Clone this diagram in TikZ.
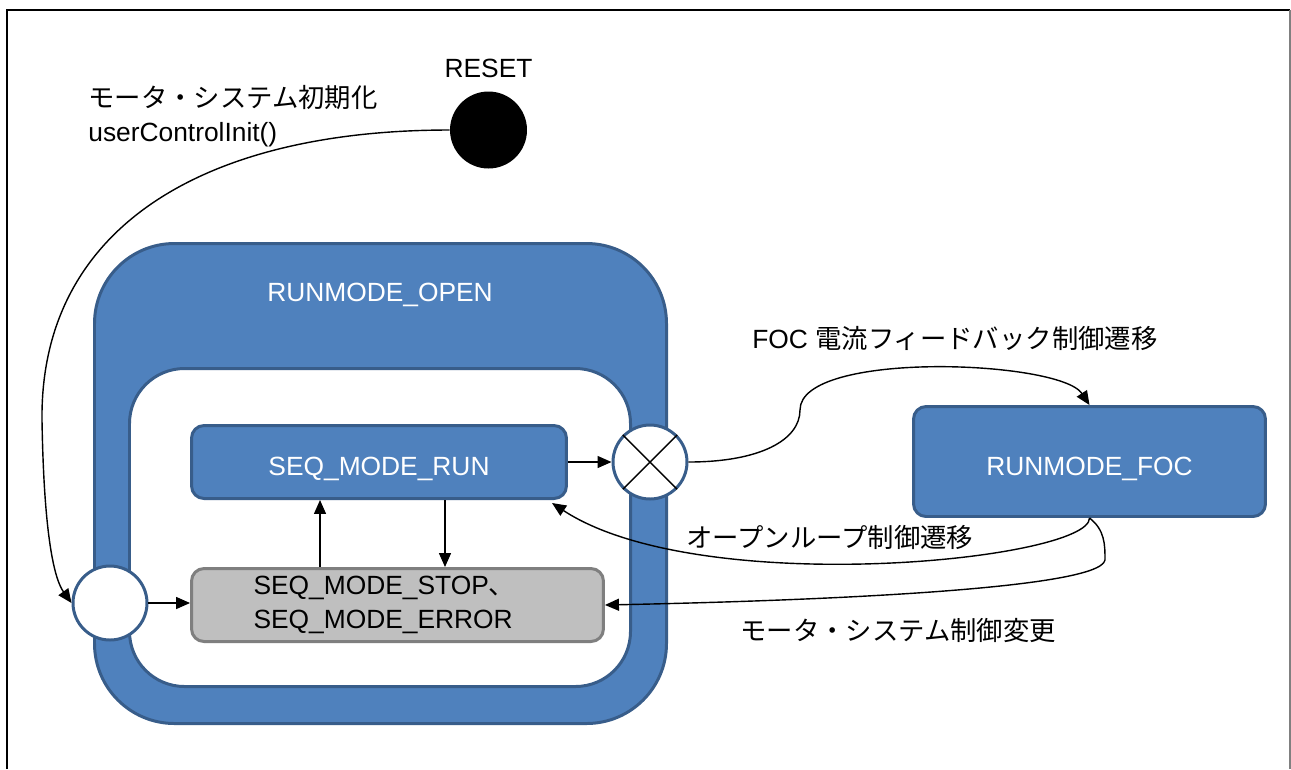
\documentclass[tikz,border=0pt]{standalone}
\usepackage{fontspec}
\setmainfont{Liberation Sans}
\newfontfamily\jp{Noto Sans CJK JP}
\usetikzlibrary{arrows.meta}
\definecolor{modeblue}{HTML}{4F81BD}
\definecolor{modeedge}{HTML}{385D8A}
\definecolor{stopgray}{HTML}{BFBFBF}
\definecolor{stopedge}{HTML}{7F7F7F}
\tikzset{
    modebox/.style={draw=modeedge, line width=1.7pt, fill=modeblue, rounded corners=0.25cm, text=white, text height=0.6cm, text depth=0.06cm},
    stopbox/.style={draw=stopedge, line width=1.7pt, fill=stopgray, rounded corners=0.25cm, align=left, text width=5.76cm, inner xsep=1.24cm},
    pseudo/.style={circle, draw=modeedge, line width=1.7pt, fill=white, minimum size=1.48cm, inner sep=0pt},
    arr/.style={-{Triangle[length=0.28cm,width=0.24cm]}, line width=0.8pt},
    lbl/.style={anchor=west, inner sep=0pt}
}
\begin{document}
\begin{tikzpicture}[x=0.02cm, y=-0.02cm, font=\fontsize{15}{19}\selectfont]
                            \useasboundingbox (0, 0) rectangle (1291, 769);
                            \draw[line width=1.2pt] (7, 769) -- (7, 10) -- (1290, 10);
                            \draw[gray, line width=0.6pt] (1290, 10) -- (1290, 769);
                            \node[circle, fill=black, minimum size=1.54cm, inner sep=0pt] (reset) at (488.5, 130) {};
                            \node (resetlbl) at (488.5, 68) {RESET};
                            \node[lbl, align=left] (initlbl) at (88, 116) {{\jp モータ・システム初期化}\\userControlInit()};
                            \filldraw[draw=modeedge, fill=modeblue, line width=1.7pt, rounded corners=1.6cm] (94.5, 243.5) rectangle (666.5, 723.5);
                            \filldraw[draw=modeedge, fill=white, line width=1.7pt, rounded corners=1.1cm] (129.5, 368.5) rectangle (630.5, 686.5);
                            \node[text=white] (openlbl) at (380, 295) {RUNMODE\_OPEN};
                            \node[modebox, minimum width=7.5cm, minimum height=1.46cm] (run) at (379, 462) {SEQ\_MODE\_RUN};
                            \node[stopbox, minimum width=8.24cm, minimum height=1.46cm] (stop) at (397.5, 605) {SEQ\_MODE\_STOP{\jp 、}\\SEQ\_MODE\_ERROR};
                            \node[pseudo] (entry) at (110, 603) {};
                            \node[pseudo] (exit) at (650, 462) {};
                            \draw[line width=0.8pt] (exit.45) -- (exit.225);
                            \draw[line width=0.8pt] (exit.135) -- (exit.315);
                            \node[modebox, minimum width=7.04cm, minimum height=2.2cm] (foc) at (1089.5, 461.5) {RUNMODE\_FOC};
                            \coordinate (upx) at (320, 0);
                            \coordinate (downx) at (445, 0);
                            \coordinate (runhit) at (552, 503);
                            \coordinate (focbend) at (1105, 560);
                            \draw[arr] (reset.west) .. controls (200, 130) and (40, 230) .. (42, 420) .. controls (44, 540) and (55, 580) .. (entry.west);
                            \draw[arr] (entry.east) -- (entry.east -| stop.west);
                            \draw[arr] (upx |- stop.north) -- (upx |- run.south);
                            \draw[arr] (downx |- run.south) -- (downx |- stop.north);
                            \draw[arr] (run.east) -- (exit.west);
                            \draw[arr] (exit.east) .. controls (760, 462) and (800, 440) .. (800, 410) .. controls (800, 350) and (1060, 360) .. (foc.north);
                            \draw[arr] (foc.south) .. controls (1090, 560) and (700, 600) .. (runhit);
                            \draw[arr] (foc.south) .. controls (1105, 530) and (1105, 545) .. (focbend) .. controls (1100, 590) and (800, 601) .. (stop.east);
                            \node[lbl] (foclbl) at (752, 338) {FOC {\jp 電流フィードバック制御遷移}};
                            \node[lbl] (openlooplbl) at (686, 537) {\jp オープンループ制御遷移};
                            \node[lbl] (changelbl) at (740, 630) {\jp モータ・システム制御変更};
                        \end{tikzpicture}
\end{document}
